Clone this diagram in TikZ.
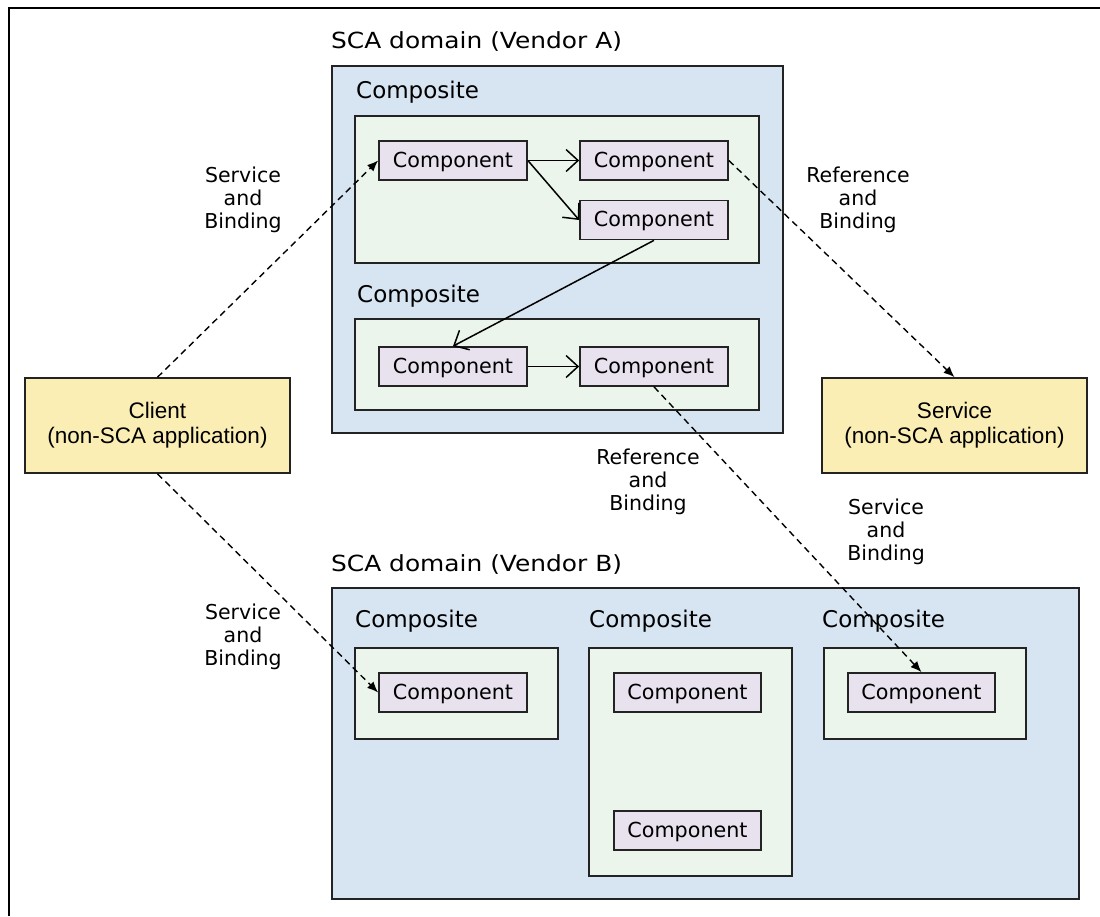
\documentclass[tikz,border=0pt]{standalone}
\usepackage{fontspec}
\setmainfont{DejaVu Sans}
\newfontfamily\arialf{Liberation Sans}
\newfontfamily\widef[FakeStretch=1.12]{DejaVu Sans}
\usetikzlibrary{arrows.meta}
\definecolor{domblue}{RGB}{215,228,241}
\definecolor{compgreen}{RGB}{235,245,236}
\definecolor{complav}{RGB}{232,226,238}
\definecolor{appyellow}{RGB}{251,238,180}
\definecolor{edgecol}{RGB}{35,35,35}
\tikzset{
  box/.style={draw=edgecol, line width=1.6pt, inner sep=0pt, anchor=north west},
  domainbox/.style={box, fill=domblue},
  greenbox/.style={box, fill=compgreen},
  comp/.style={draw=edgecol, line width=1.7pt, fill=complav, inner sep=0pt,
    minimum width=148pt, minimum height=39pt, text depth=1.5pt,
    font=\fontsize{20.7}{23}\selectfont},
  appbox/.style={draw=edgecol, line width=1.6pt, fill=appyellow, inner sep=0pt,
    minimum width=265pt, minimum height=95pt, align=center,
    font=\arialf\fontsize{22.5}{25}\selectfont},
  domlabel/.style={anchor=west, inner sep=0pt, font=\widef\fontsize{22.2}{25}\selectfont},
  complabel/.style={anchor=west, inner sep=0pt, font=\fontsize{23}{26}\selectfont},
  edgelabel/.style={align=center, inner sep=0pt, font=\fontsize{20.5}{23}\selectfont},
  solidarrow/.style={line width=1.5pt, -{Straight Barb[length=12pt,width=22pt,line width=1.5pt]}},
  dasharrow/.style={line width=1.4pt, dash pattern=on 6.5pt off 4.5pt,
    -{Latex[length=11pt,width=9pt]}},
}
\begin{document}
\begin{tikzpicture}[x=1pt,y=-1pt]
\useasboundingbox (0,0) rectangle (1100,916);
\fill[white] (0,0) rectangle (1100,916);
% outer frame (top and left only)
\draw[line width=1.6pt] (1100,8) -- (9,8) -- (9,916);

% Domain A
\node[domlabel] (labA) at (331,42) {SCA domain (Vendor A)};
\node[domainbox, minimum width=451pt, minimum height=367pt] (domA) at (331,65) {};
\node[complabel] (labCA1) at (356,92) {Composite};
\node[greenbox, minimum width=404pt, minimum height=147pt] (cA1) at (354,115) {};
\node[complabel] (labCA2) at (357,296) {Composite};
\node[greenbox, minimum width=404pt, minimum height=91pt] (cA2) at (354,318) {};
\node[comp] (a1) at (453,160.5) {Component};
\node[comp] (a2) at (654,160.5) {Component};
\node[comp] (a3) at (654,220) {Component};
\node[comp] (a4) at (453,366.5) {Component};
\node[comp] (a5) at (654,366.5) {Component};

% Domain B
\node[domlabel] (labB) at (331,565) {SCA domain (Vendor B)};
\node[domainbox, minimum width=747pt, minimum height=311pt] (domB) at (331,587) {};
\node[complabel] (labCB1) at (355,621) {Composite};
\node[complabel] (labCB2) at (589,621) {Composite};
\node[complabel] (labCB3) at (822,621) {Composite};
\node[greenbox, minimum width=203pt, minimum height=91pt] (cB1) at (354,647) {};
\node[greenbox, minimum width=203pt, minimum height=228pt] (cB2) at (588,647) {};
\node[greenbox, minimum width=202pt, minimum height=91pt] (cB3) at (823,647) {};
\node[comp] (b1) at (453,692.5) {Component};
\node[comp, minimum width=147pt] (b2) at (687.5,692.5) {Component};
\node[comp, minimum width=147pt] (b3) at (687.5,830.5) {Component};
\node[comp, minimum width=147pt] (b4) at (921.5,692.5) {Component};

% Applications
\node[appbox] (client) at (157.5,425.5) {Client\\(non-SCA application)};
\node[appbox] (service) at (954.5,425.5) {Service\\(non-SCA application)};

% Edge labels
\node[edgelabel] (l1) at (243,200) {Service\\and\\Binding};
\node[edgelabel] (l2) at (858,200) {Reference\\and\\Binding};
\node[edgelabel] (l3) at (648,482) {Reference\\and\\Binding};
\node[edgelabel] (l4) at (886,532) {Service\\and\\Binding};
\node[edgelabel] (l5) at (243,637) {Service\\and\\Binding};

% Solid arrows
\draw[solidarrow] (a1.east) -- (a2.west);
\draw[solidarrow] (a1.east) -- (a3.west);
\draw[solidarrow] (a3.south) -- (a4.north);
\draw[solidarrow] (a4.east) -- (a5.west);

% Dashed arrows
\draw[dasharrow] (client.north) -- (a1.west);
\draw[dasharrow] (a2.east) -- (service.north);
\draw[dasharrow] (a5.south) -- (b4.north);
\draw[dasharrow] (client.south) -- (b1.west);
\end{tikzpicture}
\end{document}
